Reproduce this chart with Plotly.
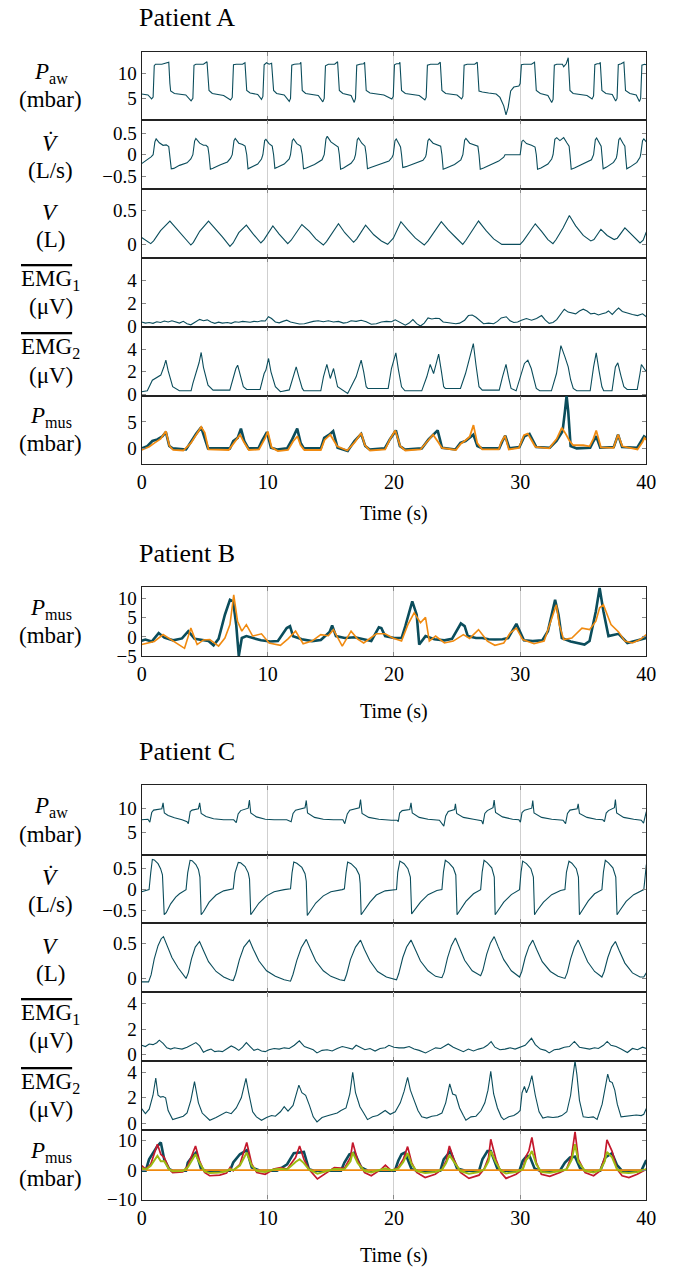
import plotly.graph_objects as go

# ---------------- DATA (time s, value) ----------------
TIME_TICKS = [0, 10, 20, 30, 40]

A_paw = [[0.00,5.9],[0.50,5.7],[0.79,4.9],[0.91,5.3],[1.00,11.6],[1.10,11.9],[1.60,11.9],[2.05,12.2],[2.15,12.3],[2.24,8.0],[2.30,6.5],[2.60,6.0],[3.50,5.7],[3.92,4.5],[4.06,5.0],[4.15,11.7],[4.30,11.9],[4.90,11.9],[5.18,12.4],[5.34,6.6],[5.60,6.0],[6.50,5.6],[7.05,4.7],[7.18,5.2],[7.28,11.8],[7.50,11.9],[8.00,11.9],[8.19,12.2],[8.33,6.6],[8.60,6.1],[9.20,5.8],[9.50,4.8],[9.61,5.4],[9.71,11.8],[9.90,12.2],[10.10,11.9],[10.30,12.1],[10.46,6.6],[10.70,6.0],[11.30,5.7],[11.70,4.4],[11.80,5.0],[11.90,11.7],[12.10,11.9],[12.55,12.0],[12.62,12.3],[12.73,6.6],[13.00,6.0],[14.00,5.6],[14.36,4.3],[14.47,5.0],[14.57,11.6],[14.80,11.9],[15.30,11.9],[15.53,12.4],[15.67,6.6],[15.95,6.0],[16.60,5.6],[16.85,4.2],[16.95,5.0],[17.05,11.7],[17.30,11.9],[17.60,12.0],[17.67,12.3],[17.80,6.6],[18.10,6.1],[19.20,5.7],[19.83,4.9],[19.94,5.4],[20.04,11.8],[20.20,12.0],[20.40,12.0],[20.47,12.3],[20.60,6.6],[20.90,6.0],[22.00,5.6],[22.45,4.7],[22.55,5.2],[22.65,11.7],[22.90,11.9],[23.50,11.9],[23.67,12.3],[23.80,6.6],[24.10,6.0],[25.00,5.7],[25.36,4.9],[25.46,5.4],[25.56,11.7],[25.80,11.9],[26.40,11.9],[26.60,12.3],[26.74,6.5],[27.00,6.3],[27.50,6.1],[28.10,5.9],[28.40,5.2],[28.70,3.5],[28.88,1.7],[29.05,3.2],[29.25,6.5],[29.50,7.3],[29.90,7.5],[30.00,8.0],[30.10,11.8],[30.30,11.9],[30.90,11.9],[31.14,12.3],[31.28,6.6],[31.60,6.0],[32.20,5.6],[32.50,4.2],[32.61,4.8],[32.71,11.7],[32.90,11.9],[33.35,11.9],[33.45,11.4],[33.65,12.0],[33.81,13.2],[33.95,6.6],[34.20,6.0],[35.30,5.6],[35.70,4.9],[35.82,5.5],[35.92,11.8],[36.10,12.0],[36.30,12.0],[36.35,12.3],[36.48,6.6],[36.80,6.0],[37.30,5.8],[37.57,4.5],[37.68,5.0],[37.78,11.8],[38.00,12.0],[38.22,12.3],[38.35,6.6],[38.70,6.0],[39.20,5.7],[39.45,4.4],[39.55,5.0],[39.65,11.7],[39.85,11.9],[40.00,11.8]]

A_flow = [[0.00,-0.21],[0.45,-0.12],[0.75,-0.05],[0.91,0.00],[1.05,0.30],[1.15,0.37],[1.40,0.28],[1.70,0.22],[1.95,0.23],[2.15,0.19],[2.24,0.00],[2.35,-0.33],[2.55,-0.32],[3.00,-0.25],[3.60,-0.19],[3.90,-0.10],[4.06,0.00],[4.20,0.32],[4.30,0.38],[4.60,0.27],[4.90,0.22],[5.10,0.22],[5.25,0.18],[5.34,0.00],[5.45,-0.34],[5.65,-0.32],[6.20,-0.24],[6.80,-0.17],[7.05,-0.08],[7.18,0.00],[7.32,0.33],[7.42,0.38],[7.70,0.27],[8.00,0.24],[8.20,0.20],[8.33,0.00],[8.43,-0.33],[8.65,-0.30],[9.20,-0.22],[9.50,-0.10],[9.61,0.00],[9.75,0.33],[9.85,0.36],[10.10,0.26],[10.35,0.20],[10.46,0.00],[10.56,-0.32],[10.80,-0.29],[11.30,-0.22],[11.70,-0.10],[11.80,0.00],[11.94,0.33],[12.04,0.37],[12.30,0.26],[12.60,0.20],[12.73,0.00],[12.83,-0.33],[13.05,-0.31],[13.70,-0.23],[14.30,-0.12],[14.47,0.00],[14.61,0.37],[14.71,0.43],[15.00,0.30],[15.40,0.23],[15.58,0.18],[15.67,0.00],[15.77,-0.34],[16.00,-0.31],[16.60,-0.20],[16.85,-0.10],[16.95,0.00],[17.09,0.35],[17.19,0.39],[17.45,0.27],[17.70,0.20],[17.80,0.00],[17.90,-0.33],[18.15,-0.30],[18.90,-0.22],[19.60,-0.15],[19.85,-0.06],[19.94,0.00],[20.08,0.33],[20.18,0.37],[20.40,0.25],[20.52,0.18],[20.60,0.00],[20.70,-0.30],[20.95,-0.28],[21.60,-0.21],[22.30,-0.13],[22.50,-0.05],[22.55,0.00],[22.69,0.33],[22.79,0.37],[23.10,0.27],[23.50,0.23],[23.70,0.20],[23.80,0.00],[23.90,-0.34],[24.15,-0.31],[24.80,-0.23],[25.30,-0.12],[25.46,0.00],[25.60,0.34],[25.70,0.38],[26.00,0.27],[26.40,0.23],[26.65,0.20],[26.74,0.00],[26.84,-0.34],[27.10,-0.31],[27.80,-0.22],[28.30,-0.15],[28.70,-0.06],[28.80,0.00],[30.00,0.00],[30.14,0.31],[30.24,0.34],[30.50,0.26],[30.90,0.22],[31.18,0.18],[31.28,0.00],[31.38,-0.34],[31.65,-0.31],[32.20,-0.22],[32.50,-0.10],[32.61,0.00],[32.75,0.36],[32.90,0.40],[33.15,0.33],[33.45,0.40],[33.70,0.28],[33.88,0.20],[33.95,0.00],[34.05,-0.34],[34.30,-0.31],[35.00,-0.22],[35.65,-0.12],[35.82,0.00],[35.96,0.35],[36.06,0.39],[36.30,0.27],[36.42,0.20],[36.48,0.00],[36.58,-0.33],[36.85,-0.29],[37.40,-0.18],[37.62,-0.08],[37.68,0.00],[37.82,0.35],[37.92,0.39],[38.15,0.27],[38.30,0.20],[38.35,0.00],[38.45,-0.33],[38.70,-0.29],[39.25,-0.18],[39.50,-0.06],[39.55,0.00],[39.70,0.33],[39.80,0.37],[40.00,0.30]]

A_vol = [[0.00,0.10],[0.72,0.01],[0.95,0.05],[1.50,0.20],[2.24,0.34],[2.70,0.24],[3.30,0.11],[3.90,-0.01],[4.10,0.03],[4.60,0.19],[5.30,0.34],[5.80,0.24],[6.40,0.11],[7.00,-0.03],[7.25,0.02],[7.70,0.17],[8.30,0.28],[8.80,0.16],[9.45,0.02],[9.70,0.07],[10.40,0.27],[10.90,0.15],[11.58,0.01],[11.85,0.06],[12.70,0.29],[13.30,0.19],[13.80,0.08],[14.40,-0.01],[14.65,0.04],[15.60,0.30],[16.10,0.17],[16.80,0.03],[17.05,0.08],[17.75,0.28],[18.40,0.14],[19.00,0.05],[19.50,0.00],[19.95,0.09],[20.55,0.33],[21.10,0.21],[21.70,0.09],[22.40,-0.01],[22.70,0.05],[23.75,0.33],[24.30,0.21],[24.90,0.10],[25.45,0.00],[25.70,0.06],[26.70,0.34],[27.30,0.20],[27.90,0.08],[28.55,0.00],[30.00,0.00],[30.25,0.05],[31.20,0.30],[31.70,0.19],[32.20,0.07],[32.60,0.01],[32.85,0.07],[33.40,0.24],[33.90,0.42],[34.40,0.27],[35.00,0.13],[35.60,0.05],[35.85,0.07],[36.40,0.22],[36.90,0.13],[37.45,0.07],[37.70,0.09],[38.30,0.24],[38.80,0.15],[39.50,0.02],[39.75,0.06],[40.00,0.18]]

A_emg1 = [[0.0,0.40],[0.3,0.30],[0.6,0.35],[0.9,0.28],[1.2,0.42],[1.5,0.35],[1.8,0.48],[2.1,0.40],[2.4,0.50],[2.7,0.38],[3.0,0.30],[3.3,0.45],[3.6,0.25],[3.9,0.15],[4.2,0.35],[4.6,0.62],[4.9,0.50],[5.2,0.58],[5.5,0.40],[5.8,0.28],[6.1,0.38],[6.4,0.30],[6.8,0.35],[7.1,0.28],[7.4,0.42],[7.7,0.38],[8.0,0.45],[8.3,0.40],[8.6,0.38],[8.9,0.45],[9.2,0.42],[9.5,0.50],[9.8,0.48],[10.05,0.85],[10.3,0.70],[10.6,0.40],[10.9,0.32],[11.2,0.45],[11.5,0.55],[11.8,0.40],[12.1,0.32],[12.5,0.22],[12.9,0.25],[13.3,0.38],[13.6,0.45],[14.0,0.50],[14.4,0.42],[14.8,0.50],[15.2,0.40],[15.6,0.45],[16.0,0.30],[16.3,0.35],[16.6,0.50],[17.0,0.45],[17.4,0.55],[17.8,0.42],[18.2,0.20],[18.6,0.25],[19.0,0.40],[19.4,0.45],[19.8,0.42],[20.1,0.58],[20.4,0.40],[20.7,0.25],[20.9,0.12],[21.2,0.30],[21.5,0.60],[21.8,0.25],[22.1,0.05],[22.4,0.30],[22.7,0.75],[23.0,0.65],[23.3,0.72],[23.6,0.70],[23.9,0.40],[24.2,0.35],[24.5,0.30],[24.9,0.25],[25.2,0.30],[25.6,0.55],[25.9,0.95],[26.2,1.00],[26.5,0.80],[26.8,0.50],[27.1,0.25],[27.5,0.30],[27.9,0.25],[28.2,0.45],[28.5,0.75],[28.9,0.85],[29.2,0.50],[29.5,0.35],[29.8,0.40],[30.1,0.55],[30.5,0.70],[30.9,0.55],[31.3,0.70],[31.7,0.95],[32.0,0.55],[32.3,0.28],[32.6,0.35],[32.9,0.60],[33.2,1.00],[33.5,1.50],[33.8,1.25],[34.1,1.20],[34.4,1.10],[34.7,1.35],[35.0,1.50],[35.3,1.35],[35.6,1.10],[35.9,1.15],[36.2,1.00],[36.5,1.10],[36.8,1.20],[37.0,1.35],[37.3,1.05],[37.6,1.40],[37.8,1.60],[38.1,1.30],[38.5,1.15],[38.9,1.05],[39.3,0.95],[39.7,1.10],[40.0,0.85]]

A_emg2 = [[0.00,0.24],[0.45,0.32],[0.85,1.26],[1.25,1.56],[1.52,1.71],[1.75,2.40],[1.92,3.03],[2.10,2.10],[2.46,0.68],[2.99,0.32],[3.92,0.32],[4.06,0.97],[4.32,1.85],[4.55,2.80],[4.72,3.71],[4.90,2.40],[5.26,0.82],[5.66,0.38],[6.99,0.38],[7.26,1.56],[7.47,2.29],[7.61,2.59],[7.80,1.70],[8.06,0.68],[8.33,0.44],[9.39,0.44],[9.71,1.85],[9.85,2.15],[10.06,3.18],[10.25,2.00],[10.60,0.68],[11.00,0.24],[11.70,0.40],[11.93,1.26],[12.25,2.44],[12.45,1.60],[12.73,0.53],[12.86,0.32],[14.20,0.32],[14.41,1.56],[14.68,2.65],[14.95,1.41],[15.21,2.29],[15.53,0.68],[16.33,0.09],[17.00,1.56],[17.40,3.03],[17.60,2.00],[17.80,0.68],[17.93,0.53],[19.54,0.53],[19.80,2.29],[20.15,3.68],[20.35,2.20],[20.60,0.68],[20.87,0.32],[22.20,0.32],[22.60,1.56],[22.87,2.65],[23.14,1.85],[23.54,3.56],[23.75,2.10],[23.94,0.68],[24.07,0.53],[25.27,0.53],[25.67,1.85],[26.07,3.62],[26.29,4.50],[26.50,2.60],[26.74,0.68],[27.00,0.38],[28.34,0.38],[28.60,1.56],[28.88,2.65],[29.08,1.50],[29.28,0.53],[29.68,0.32],[30.34,2.74],[30.61,3.03],[30.88,2.29],[31.10,1.30],[31.28,0.53],[31.55,0.32],[32.48,0.32],[32.88,1.85],[33.23,4.32],[33.55,3.32],[33.81,2.44],[34.00,1.30],[34.21,0.53],[34.48,0.32],[35.55,0.32],[35.82,2.44],[36.03,3.68],[36.25,2.10],[36.48,0.68],[36.62,0.32],[37.28,0.32],[37.55,2.44],[37.74,2.79],[38.00,1.60],[38.22,0.68],[38.48,0.44],[39.28,0.44],[39.50,1.85],[39.61,2.65],[40.00,2.00]]

A_pmus_meas = [[0.00,0.0],[0.45,0.44],[0.85,1.4],[1.25,1.7],[1.65,2.3],[1.92,3.1],[2.19,0.44],[2.46,0.0],[3.52,-0.2],[3.92,1.4],[4.32,2.75],[4.72,4.0],[4.99,2.0],[5.26,0.0],[7.00,0.0],[7.26,1.4],[7.61,2.0],[7.87,3.75],[8.14,1.4],[8.46,0.0],[9.26,0.0],[9.53,1.4],[9.93,3.1],[10.25,0.12],[10.73,-0.2],[11.53,0.0],[11.93,1.7],[12.33,3.75],[12.60,1.06],[12.86,0.0],[14.20,0.0],[14.47,2.0],[14.87,2.6],[15.18,3.25],[15.53,0.12],[16.33,-0.5],[16.87,1.4],[17.40,2.75],[17.72,0.44],[18.07,-0.2],[19.27,0.0],[19.67,1.7],[20.15,3.4],[20.47,0.44],[20.87,-0.2],[22.20,0.0],[22.74,1.7],[23.46,3.4],[23.81,0.12],[24.87,-0.2],[25.27,1.06],[25.67,1.4],[26.29,2.6],[26.61,0.44],[27.01,0.0],[28.34,0.0],[28.60,1.4],[28.82,2.4],[29.15,0.0],[29.94,0.25],[30.34,2.3],[30.74,2.75],[31.28,0.25],[32.35,0.12],[32.88,1.4],[33.36,3.25],[33.55,7.0],[33.68,10.0],[33.81,7.0],[34.00,0.44],[34.48,0.0],[35.55,0.12],[35.82,1.4],[36.03,2.3],[36.35,0.12],[37.42,0.25],[37.76,2.6],[38.08,0.25],[39.28,0.12],[39.68,1.7],[39.82,2.3],[40.00,2.0]]

A_pmus_est = [[0.0,-0.3],[0.6,0.3],[1.0,1.0],[1.5,1.8],[1.92,3.25],[2.2,0.5],[2.5,-0.3],[3.3,-0.4],[3.9,1.0],[4.4,2.8],[4.72,4.05],[5.0,3.0],[5.3,-0.2],[6.9,-0.3],[7.3,1.0],[7.8,2.6],[8.1,1.2],[8.5,-0.3],[9.3,-0.2],[9.8,2.0],[10.0,3.2],[10.3,0.2],[10.8,-0.5],[11.6,-0.3],[12.0,1.3],[12.35,2.3],[12.6,0.6],[12.9,-0.3],[14.2,-0.3],[14.5,1.6],[14.95,2.6],[15.2,1.5],[15.5,0.4],[16.3,-0.4],[16.9,1.2],[17.4,2.9],[17.7,0.6],[18.1,-0.4],[19.3,-0.2],[19.7,1.8],[20.1,3.4],[20.5,0.4],[20.9,-0.4],[22.1,-0.2],[22.7,1.4],[23.1,2.6],[23.5,1.2],[23.8,0.1],[24.9,-0.3],[25.3,0.9],[25.7,1.6],[26.0,2.2],[26.3,4.4],[26.6,1.0],[27.0,-0.2],[28.3,-0.2],[28.5,1.2],[28.8,2.4],[29.1,-0.2],[29.9,0.1],[30.3,2.5],[30.6,2.8],[31.2,0.3],[32.3,0.0],[32.9,1.8],[33.3,3.9],[33.6,2.8],[33.9,1.5],[34.2,0.6],[35.0,0.6],[35.5,0.4],[35.8,1.8],[36.03,3.4],[36.4,0.2],[37.4,0.1],[37.76,2.6],[38.1,0.4],[39.3,-0.2],[39.7,1.2],[39.85,2.0],[40.0,1.6]]

B_pmus_meas = [[0.0,-1.0],[0.3,-0.7],[0.8,-1.2],[1.35,1.0],[1.8,-0.2],[2.5,-0.9],[3.2,-0.4],[3.7,1.5],[4.2,-0.5],[4.8,-0.8],[5.3,-1.1],[5.7,-2.2],[6.1,-0.5],[6.6,5.8],[7.0,9.7],[7.25,9.3],[7.5,3.0],[7.7,-5.0],[7.94,-0.3],[8.3,0.2],[8.9,-0.4],[9.46,-0.9],[10.2,-1.2],[10.8,-1.1],[11.5,2.3],[11.76,2.8],[12.0,0.2],[12.7,-0.6],[13.5,-1.1],[14.2,-0.8],[14.9,1.3],[15.1,3.0],[15.4,0.2],[16.1,-0.3],[16.9,-0.1],[17.6,-0.6],[18.2,-1.1],[18.8,2.5],[19.0,2.3],[19.3,0.2],[20.0,-0.3],[20.6,-0.3],[20.9,2.8],[21.45,9.3],[21.8,5.8],[22.0,-2.0],[22.5,0.2],[23.2,-0.6],[24.0,-0.9],[24.6,-0.5],[25.1,2.3],[25.3,3.5],[25.6,2.8],[25.85,0.2],[26.5,-0.3],[27.0,-0.3],[27.5,-0.6],[28.0,-0.7],[28.6,-0.6],[29.05,-0.3],[29.7,3.4],[30.07,1.0],[30.3,-0.9],[31.0,-1.1],[31.75,-0.9],[32.2,1.5],[32.5,5.8],[32.77,9.7],[33.04,5.8],[33.3,-0.3],[34.0,-1.2],[34.5,-1.6],[35.1,-2.0],[35.5,-1.1],[36.0,6.7],[36.3,12.8],[36.6,6.7],[37.0,0.2],[37.4,0.6],[37.8,0.8],[38.5,-1.6],[39.0,-1.2],[39.5,-0.7],[40.0,-0.3]]

B_pmus_est = [[0.0,-2.0],[0.5,-1.5],[1.0,-1.2],[1.7,0.6],[2.2,-0.5],[2.7,-1.6],[3.4,-3.0],[3.9,2.3],[4.4,-2.0],[4.9,-0.8],[5.4,-0.7],[6.1,-2.4],[6.6,-0.3],[7.0,3.2],[7.3,11.0],[7.6,4.1],[7.94,1.5],[8.3,3.2],[8.8,0.2],[9.5,0.8],[10.1,-1.6],[11.0,-2.2],[11.6,-0.5],[12.2,1.5],[12.8,-1.8],[13.5,-1.1],[14.2,0.6],[14.8,0.3],[15.2,1.9],[15.9,-2.4],[16.6,1.5],[17.1,-0.5],[17.6,-1.6],[18.6,0.8],[19.3,0.8],[19.9,-0.3],[20.6,-1.1],[21.1,3.2],[21.6,6.3],[22.1,3.7],[22.5,5.1],[22.8,-1.1],[23.3,0.2],[24.0,-1.6],[24.7,-1.1],[25.5,0.6],[26.0,-0.4],[26.7,1.9],[27.4,-1.1],[28.0,-2.2],[28.7,-1.6],[29.2,1.0],[29.7,2.3],[30.2,-0.7],[31.1,-1.8],[31.9,-1.1],[32.6,5.8],[32.87,8.4],[33.1,3.2],[33.45,-0.7],[34.1,-0.3],[34.9,2.3],[35.5,1.9],[36.0,4.1],[36.3,7.6],[36.6,8.4],[37.2,3.2],[37.8,1.3],[38.3,-1.1],[38.9,-1.6],[39.5,-0.7],[40.0,0.6]]

C_paw = [[0.00,7.7],[0.50,7.8],[0.65,7.2],[0.80,9.2],[0.95,9.7],[1.60,10.0],[1.70,11.2],[1.80,9.1],[2.10,8.6],[2.60,8.1],[3.20,7.7],[3.60,7.3],[3.70,6.9],[3.85,9.4],[4.00,9.7],[4.50,10.0],[4.60,11.2],[4.72,9.0],[5.10,8.4],[5.70,7.9],[6.50,7.7],[7.30,7.7],[7.50,7.1],[7.65,8.9],[7.85,9.6],[8.45,10.1],[8.54,11.8],[8.65,9.1],[9.10,8.3],[9.80,7.8],[10.50,7.7],[11.50,7.7],[11.85,7.3],[12.00,9.0],[12.20,9.7],[12.95,10.2],[13.05,11.7],[13.15,9.1],[13.70,8.2],[14.40,7.8],[15.20,7.7],[15.95,7.7],[16.10,6.9],[16.30,8.9],[16.50,9.7],[17.25,10.2],[17.35,11.9],[17.47,9.0],[18.00,8.2],[18.80,7.8],[19.80,7.6],[20.25,7.6],[20.34,7.3],[20.45,9.1],[20.65,9.6],[21.25,9.8],[21.35,11.2],[21.45,9.1],[22.00,8.2],[22.70,7.8],[23.60,7.6],[23.95,6.4],[24.10,8.5],[24.30,9.4],[24.80,9.8],[24.87,11.0],[24.97,9.0],[25.50,8.2],[26.30,7.8],[26.95,7.5],[27.05,6.8],[27.20,9.0],[27.40,9.6],[27.85,10.2],[27.94,11.8],[28.05,9.2],[28.60,8.3],[29.40,7.8],[29.90,7.7],[30.02,7.2],[30.15,9.2],[30.35,9.7],[30.92,10.1],[31.00,11.7],[31.10,9.1],[31.70,8.2],[32.50,7.8],[33.40,7.6],[33.60,6.9],[33.75,9.0],[33.95,9.7],[34.52,10.0],[34.60,11.0],[34.70,9.0],[35.30,8.2],[36.00,7.8],[36.55,7.7],[36.68,7.3],[36.82,9.1],[37.00,9.6],[37.47,10.2],[37.55,11.9],[37.65,9.1],[38.20,8.2],[39.00,7.8],[39.60,7.6],[39.78,7.0],[39.90,8.8],[40.00,9.4]]

C_flow = [[0.00,-0.05],[0.45,-0.02],[0.59,0.00],[0.72,0.40],[0.85,0.72],[1.00,0.71],[1.30,0.62],[1.50,0.50],[1.65,0.35],[1.79,-0.60],[1.95,-0.55],[2.30,-0.34],[2.70,-0.18],[3.00,-0.10],[3.40,-0.02],[3.52,0.00],[3.65,0.40],[3.84,0.70],[4.00,0.69],[4.30,0.60],[4.50,0.48],[4.62,0.30],[4.72,-0.60],[4.90,-0.53],[5.35,-0.30],[5.90,-0.13],[6.50,-0.03],[7.10,0.00],[7.26,0.02],[7.40,0.40],[7.66,0.65],[7.85,0.64],[8.20,0.55],[8.45,0.40],[8.55,0.25],[8.65,-0.60],[8.85,-0.52],[9.30,-0.32],[9.90,-0.15],[10.50,-0.05],[11.30,0.00],[11.80,0.02],[11.92,0.40],[12.06,0.66],[12.30,0.63],[12.70,0.53],[12.95,0.38],[13.05,0.20],[13.13,-0.62],[13.35,-0.52],[13.80,-0.32],[14.40,-0.15],[15.00,-0.05],[15.90,0.00],[16.07,0.02],[16.20,0.40],[16.33,0.66],[16.60,0.62],[17.00,0.50],[17.25,0.35],[17.32,0.15],[17.40,-0.60],[17.60,-0.52],[18.10,-0.30],[18.60,-0.13],[19.30,-0.03],[20.20,0.00],[20.30,0.42],[20.47,0.68],[20.80,0.62],[21.10,0.50],[21.30,0.30],[21.40,-0.58],[21.60,-0.50],[22.10,-0.30],[22.70,-0.12],[23.40,-0.02],[23.80,0.00],[23.92,0.42],[24.07,0.70],[24.35,0.64],[24.70,0.52],[24.90,0.35],[25.00,-0.60],[25.20,-0.50],[25.70,-0.28],[26.30,-0.10],[26.87,0.00],[26.99,0.42],[27.14,0.70],[27.40,0.64],[27.75,0.52],[27.95,0.30],[28.02,-0.60],[28.25,-0.50],[28.70,-0.30],[29.30,-0.12],[29.80,-0.02],[29.95,0.00],[30.07,0.42],[30.20,0.68],[30.50,0.62],[30.85,0.50],[31.05,0.30],[31.14,-0.60],[31.35,-0.50],[31.85,-0.30],[32.50,-0.12],[33.20,-0.02],[33.55,0.00],[33.67,0.42],[33.87,0.68],[34.10,0.63],[34.45,0.50],[34.62,0.30],[34.70,-0.60],[34.90,-0.50],[35.40,-0.27],[35.90,-0.10],[36.48,0.00],[36.60,0.42],[36.75,0.70],[37.00,0.64],[37.35,0.52],[37.58,0.30],[37.68,-0.60],[37.90,-0.50],[38.40,-0.28],[39.00,-0.12],[39.60,-0.02],[39.80,0.00],[39.92,0.35],[40.00,0.60]]

C_vol = [[0.00,-0.05],[0.55,-0.05],[0.75,0.05],[1.00,0.28],[1.30,0.47],[1.55,0.57],[1.73,0.60],[2.00,0.48],[2.40,0.30],[2.90,0.15],[3.30,0.05],[3.52,0.00],[3.70,0.08],[3.95,0.28],[4.25,0.45],[4.59,0.53],[4.90,0.40],[5.30,0.24],[5.90,0.10],[6.50,0.02],[7.00,-0.02],[7.26,-0.03],[7.45,0.06],[7.75,0.27],[8.10,0.45],[8.54,0.55],[8.85,0.42],[9.30,0.25],[9.90,0.11],[10.60,0.03],[11.30,-0.02],[11.80,-0.04],[12.00,0.06],[12.30,0.26],[12.65,0.44],[13.05,0.56],[13.35,0.43],[13.80,0.25],[14.40,0.11],[15.00,0.03],[15.70,-0.02],[16.07,-0.03],[16.25,0.06],[16.55,0.27],[16.95,0.45],[17.35,0.55],[17.65,0.42],[18.10,0.25],[18.70,0.10],[19.40,0.02],[20.20,-0.02],[20.38,0.07],[20.70,0.30],[21.00,0.45],[21.35,0.55],[21.65,0.42],[22.10,0.25],[22.70,0.11],[23.30,0.03],[23.80,0.01],[23.98,0.09],[24.25,0.30],[24.55,0.47],[24.87,0.58],[25.15,0.45],[25.60,0.26],[26.20,0.11],[26.87,0.04],[27.05,0.12],[27.35,0.35],[27.65,0.51],[27.94,0.60],[28.25,0.46],[28.70,0.27],[29.30,0.11],[29.95,0.02],[30.13,0.10],[30.40,0.30],[30.70,0.46],[31.00,0.55],[31.30,0.42],[31.75,0.24],[32.40,0.10],[33.00,0.03],[33.55,0.00],[33.73,0.08],[34.00,0.28],[34.30,0.45],[34.60,0.55],[34.90,0.42],[35.35,0.24],[35.90,0.10],[36.48,0.02],[36.66,0.10],[36.95,0.30],[37.25,0.45],[37.55,0.53],[37.85,0.40],[38.30,0.22],[38.90,0.08],[39.50,0.02],[39.80,0.02],[40.00,0.08]]

C_emg1 = [[0.0,0.75],[0.3,0.65],[0.6,0.85],[0.9,0.80],[1.2,0.95],[1.4,1.15],[1.7,0.90],[2.0,0.55],[2.3,0.45],[2.6,0.55],[2.9,0.50],[3.2,0.45],[3.6,0.60],[3.9,0.75],[4.3,0.96],[4.6,0.70],[4.9,0.20],[5.2,0.35],[5.5,0.45],[5.8,0.25],[6.1,0.30],[6.4,0.25],[6.8,0.50],[7.1,0.70],[7.4,0.55],[7.7,0.35],[8.0,0.60],[8.3,0.96],[8.6,0.65],[8.9,0.35],[9.2,0.45],[9.5,0.30],[9.8,0.25],[10.1,0.40],[10.5,0.50],[10.9,0.45],[11.3,0.55],[11.7,0.50],[12.1,0.75],[12.5,1.10],[12.9,0.65],[13.3,0.50],[13.6,0.40],[13.9,0.15],[14.3,0.35],[14.7,0.40],[15.1,0.30],[15.5,0.50],[15.9,0.65],[16.3,0.55],[16.7,0.45],[17.0,0.75],[17.3,0.60],[17.7,0.40],[18.1,0.50],[18.5,0.30],[18.9,0.50],[19.3,0.55],[19.6,0.75],[20.0,0.60],[20.4,0.55],[20.8,0.55],[21.2,0.65],[21.6,0.45],[22.0,0.35],[22.5,0.15],[22.9,0.35],[23.3,0.55],[23.7,0.50],[24.0,0.70],[24.3,0.85],[24.7,0.60],[25.1,0.40],[25.5,0.25],[25.9,0.45],[26.3,0.30],[26.7,0.45],[27.1,0.55],[27.4,0.75],[27.7,1.04],[28.0,0.60],[28.4,0.40],[28.8,0.45],[29.2,0.55],[29.6,0.45],[30.0,0.60],[30.4,0.75],[30.9,1.30],[31.2,0.80],[31.6,0.45],[32.0,0.35],[32.3,0.15],[32.7,0.40],[33.1,0.45],[33.5,0.60],[33.9,0.65],[34.3,1.05],[34.7,0.60],[35.1,0.55],[35.5,0.45],[35.9,0.55],[36.2,0.50],[36.6,0.75],[36.9,1.05],[37.2,0.75],[37.6,0.65],[38.0,0.45],[38.5,0.18],[38.9,0.50],[39.3,0.40],[39.7,0.60],[40.0,0.50]]

C_emg2 = [[0.0,1.15],[0.3,0.75],[0.6,1.1],[0.9,2.2],[1.12,3.56],[1.3,2.2],[1.5,2.05],[1.7,2.1],[1.9,2.0],[2.1,1.0],[2.46,0.29],[2.9,0.45],[3.3,0.55],[3.6,0.8],[3.9,1.8],[4.19,3.27],[4.5,1.6],[4.8,0.8],[5.4,0.23],[5.9,0.45],[6.3,0.7],[6.7,0.88],[7.1,0.75],[7.5,1.2],[7.9,2.0],[8.27,3.53],[8.5,2.3],[8.8,0.9],[9.1,0.5],[9.5,0.23],[9.9,0.45],[10.3,0.6],[10.6,0.55],[11.0,0.9],[11.3,1.3],[11.6,0.95],[12.0,1.4],[12.46,3.0],[12.7,2.4],[13.0,2.2],[13.3,1.4],[13.6,0.5],[13.9,0.1],[14.3,0.45],[14.8,0.6],[15.2,0.7],[15.5,0.8],[15.8,1.0],[16.2,1.2],[16.5,2.3],[16.73,4.0],[16.95,2.4],[17.3,1.3],[17.6,0.8],[17.9,0.28],[18.3,0.5],[18.7,0.6],[19.0,0.8],[19.3,1.0],[19.7,0.7],[20.1,0.9],[20.5,1.6],[20.8,2.5],[21.08,3.6],[21.3,2.6],[21.6,1.8],[21.9,1.0],[22.2,0.5],[22.6,0.4],[23.0,0.55],[23.4,0.6],[23.8,0.8],[24.1,1.6],[24.42,3.1],[24.65,2.3],[24.9,2.2],[25.2,1.2],[25.5,0.6],[25.7,0.23],[26.1,0.5],[26.5,0.55],[26.9,1.0],[27.2,1.6],[27.45,2.6],[27.67,4.08],[27.9,2.3],[28.2,1.2],[28.5,0.5],[28.7,0.28],[29.1,0.5],[29.5,0.6],[29.8,0.8],[30.0,1.0],[30.15,2.4],[30.34,2.9],[30.5,2.4],[30.7,2.9],[30.93,3.74],[31.2,2.2],[31.5,0.9],[31.8,0.4],[32.2,0.5],[32.6,0.45],[33.0,0.5],[33.3,0.6],[33.7,0.9],[34.0,2.2],[34.2,3.8],[34.35,4.9],[34.5,3.8],[34.7,1.8],[35.0,0.5],[35.4,0.45],[35.8,0.5],[36.1,0.3],[36.5,1.5],[36.8,3.0],[36.94,3.87],[37.1,3.3],[37.3,3.2],[37.5,2.6],[37.7,1.5],[38.0,0.5],[38.4,0.55],[38.8,0.6],[39.2,0.65],[39.6,0.6],[39.8,0.7],[40.0,1.15]]

C_pmus_meas = [[0.00,-0.2],[0.32,-0.2],[0.59,3.7],[1.25,8.2],[1.52,9.4],[1.79,3.7],[2.19,0.3],[2.46,-0.2],[3.52,-0.2],[3.66,2.6],[4.06,4.9],[4.32,6.0],[4.72,0.3],[5.12,-0.2],[7.00,-0.2],[7.26,2.6],[7.79,5.4],[8.33,6.8],[8.73,0.9],[9.39,-0.2],[10.73,-0.2],[11.53,2.0],[12.06,5.8],[12.86,6.2],[13.26,0.3],[13.66,-0.2],[15.80,-0.2],[16.07,2.6],[16.47,5.4],[16.87,6.0],[17.40,0.9],[17.93,-0.2],[20.07,-0.2],[20.34,3.2],[20.60,5.4],[20.87,6.0],[21.40,0.3],[21.94,-0.2],[23.67,-0.2],[23.94,3.7],[24.47,6.4],[25.00,0.6],[25.67,-0.2],[26.74,-0.2],[27.01,3.7],[27.41,6.5],[27.67,6.5],[28.21,0.3],[28.61,-0.2],[29.94,-0.2],[30.21,3.2],[30.48,4.6],[30.74,4.9],[31.14,0.6],[31.55,-0.2],[33.15,-0.2],[33.55,2.6],[33.95,4.3],[34.35,4.6],[34.75,0.6],[35.15,-0.2],[36.35,-0.2],[36.75,4.3],[37.28,5.8],[37.68,1.7],[38.08,-0.2],[39.60,-0.2],[40.00,3.4]]

C_pmus_est1 = [[0.0,1.5],[0.32,0.34],[0.72,2.0],[1.25,8.8],[1.52,5.4],[1.79,4.3],[2.19,0.34],[2.46,-0.8],[3.26,-0.6],[3.66,1.5],[4.27,8.2],[4.59,3.2],[4.99,-0.8],[5.39,-1.9],[6.19,-1.7],[6.73,-1.0],[7.0,0.9],[7.26,-0.2],[7.79,2.0],[8.33,9.4],[8.73,2.0],[9.13,-0.8],[9.79,-1.4],[10.46,0.34],[11.0,0.9],[11.53,0.34],[12.2,4.3],[12.52,8.2],[12.86,3.7],[13.26,0.34],[13.93,-3.0],[14.46,-1.4],[15.27,0.9],[16.07,0.6],[16.55,4.3],[16.73,9.4],[17.13,3.2],[17.67,-0.8],[18.2,-1.9],[19.0,0.34],[19.32,1.7],[19.8,-0.2],[20.34,0.9],[20.74,3.7],[21.08,8.0],[21.4,2.6],[21.8,-0.8],[22.47,-2.5],[23.27,-1.4],[23.81,0.34],[24.13,3.2],[24.39,8.2],[24.74,3.7],[25.27,-0.8],[25.94,-2.8],[26.74,-1.7],[27.14,0.34],[27.49,4.3],[27.67,10.5],[28.08,3.7],[28.48,-0.8],[28.88,-2.8],[29.68,-1.4],[30.21,0.34],[30.48,4.9],[30.69,6.5],[30.93,11.1],[31.28,2.6],[31.68,-1.4],[32.35,-2.1],[33.15,-0.8],[33.68,0.34],[34.08,4.9],[34.35,13.0],[34.62,3.7],[35.15,-0.8],[35.82,-1.9],[36.35,-0.2],[36.7,4.3],[36.88,10.3],[37.28,6.5],[37.68,0.34],[38.08,-1.9],[38.62,-2.5],[39.28,-1.4],[40.0,0.34]]

C_pmus_est2 = [[0.0,0.8],[0.32,0.2],[0.72,1.5],[1.25,4.9],[1.52,3.0],[1.79,3.0],[2.19,0.2],[2.46,-0.4],[3.26,-0.3],[3.66,1.0],[4.27,5.4],[4.59,2.5],[4.99,-0.4],[5.39,-1.0],[6.19,-0.8],[6.73,-0.4],[7.0,0.4],[7.26,0.0],[7.79,1.6],[8.33,6.0],[8.73,1.5],[9.13,-0.3],[9.79,-0.6],[10.46,0.2],[11.0,0.5],[11.53,0.2],[12.2,2.8],[12.52,3.7],[12.86,2.4],[13.26,0.2],[13.93,-1.2],[14.46,-0.6],[15.27,0.4],[16.07,0.3],[16.55,3.0],[16.73,6.0],[17.13,2.4],[17.67,-0.3],[18.2,-0.8],[19.0,0.2],[19.32,0.6],[19.8,0.0],[20.34,0.5],[20.74,2.8],[21.08,5.8],[21.4,2.0],[21.8,-0.3],[22.47,-1.0],[23.27,-0.6],[23.81,0.2],[24.13,2.4],[24.39,5.1],[24.74,2.8],[25.27,-0.3],[25.94,-1.2],[26.74,-0.6],[27.14,0.2],[27.49,3.0],[27.67,6.5],[28.08,2.6],[28.48,-0.3],[28.88,-1.1],[29.68,-0.6],[30.21,0.3],[30.48,3.5],[30.69,4.5],[30.93,6.5],[31.28,2.0],[31.68,-0.6],[32.35,-0.9],[33.15,-0.3],[33.68,0.3],[34.08,3.5],[34.35,8.8],[34.62,2.8],[35.15,-0.3],[35.82,-0.8],[36.35,0.0],[36.7,3.0],[36.88,6.2],[37.28,4.4],[37.68,0.3],[38.08,-0.8],[38.62,-1.0],[39.28,-0.6],[40.0,0.3]]

C_pmus_zero = [[0.0,0.0],[40.0,0.0]]

# ---------------- STYLE / LAYOUT ----------------
W, H = 684, 1276
FONT = "Liberation Serif"
TEAL = "#0b4d5c"
ORANGE = "#f08a10"
RED = "#c4182c"
GREEN = "#9dbb12"
XL, XR = 139.7, 655.7
LABEL_X = 47

def split(pairs):
    return [p[0] for p in pairs], [p[1] for p in pairs]

EMG1 = '<span style="text-decoration:overline">EMG</span><sub>1</sub>'
EMG2 = '<span style="text-decoration:overline">EMG</span><sub>2</sub>'
PAW = "<i>P</i><sub>aw</sub>"
PMUS = "<i>P</i><sub>mus</sub>"
VDOT = "<i>V\u0307</i>"
VOL = "<i>V</i>"

# label offsets (line1, line2) relative to panel centre, px
OFF_STD = (-13, 14)
OFF_V = (-11, 16)

panels = [
    dict(top=52.3, bot=121.3, rng=[0.6, 14.4], ticks=[5, 10], lab=(PAW, "(mbar)"), off=OFF_STD, series=[(A_paw, TEAL, 1.1)], xlab=False),
    dict(top=121.3, bot=190.5, rng=[-0.8, 0.807], ticks=[-0.5, 0, 0.5], lab=(VDOT, "(L/s)"), off=OFF_V, series=[(A_flow, TEAL, 1.1)], xlab=False),
    dict(top=190.5, bot=260.3, rng=[-0.2, 0.81], ticks=[0, 0.5], lab=(VOL, "(L)"), off=OFF_V, series=[(A_vol, TEAL, 1.1)], xlab=False),
    dict(top=260.3, bot=330.0, rng=[-0.05, 5.92], ticks=[0, 2, 4], lab=(EMG1, "(μV)"), off=OFF_STD, series=[(A_emg1, TEAL, 1.1)], xlab=False),
    dict(top=330.0, bot=399.0, rng=[-0.1, 5.95], ticks=[0, 2, 4], lab=(EMG2, "(μV)"), off=OFF_STD, series=[(A_emg2, TEAL, 1.1)], xlab=False),
    dict(top=399.0, bot=468.3, rng=[-3.0, 10.0], ticks=[0, 5], lab=(PMUS, "(mbar)"), off=OFF_STD, series=[(A_pmus_meas, TEAL, 2.6), (A_pmus_est, ORANGE, 1.8)], xlab=True),
    dict(top=592.3, bot=661.7, rng=[-5.0, 13.0], ticks=[-5, 0, 5, 10], lab=(PMUS, "(mbar)"), off=OFF_STD, series=[(B_pmus_meas, TEAL, 2.6), (B_pmus_est, ORANGE, 1.6)], xlab=True),
    dict(top=792.3, bot=862.3, rng=[0.44, 14.8], ticks=[5, 10], lab=(PAW, "(mbar)"), off=OFF_STD, series=[(C_paw, TEAL, 1.1)], xlab=False),
    dict(top=862.3, bot=930.7, rng=[-0.79, 0.83], ticks=[-0.5, 0, 0.5], lab=(VDOT, "(L/s)"), off=OFF_V, series=[(C_flow, TEAL, 1.1)], xlab=False),
    dict(top=930.7, bot=1001.0, rng=[-0.2, 0.80], ticks=[0, 0.5], lab=(VOL, "(L)"), off=OFF_V, series=[(C_vol, TEAL, 1.1)], xlab=False),
    dict(top=1001.0, bot=1070.7, rng=[-0.52, 4.9], ticks=[0, 2, 4], lab=(EMG1, "(μV)"), off=OFF_STD, series=[(C_emg1, TEAL, 1.1)], xlab=False),
    dict(top=1070.7, bot=1140.0, rng=[-0.55, 4.86], ticks=[0, 2, 4], lab=(EMG2, "(μV)"), off=OFF_STD, series=[(C_emg2, TEAL, 1.1)], xlab=False),
    dict(top=1140.0, bot=1210.0, rng=[-10.0, 13.6], ticks=[-10, 0, 10], lab=(PMUS, "(mbar)"), off=OFF_STD,
         series=[(C_pmus_meas, TEAL, 2.6), (C_pmus_est1, RED, 1.7), (C_pmus_zero, ORANGE, 1.6), (C_pmus_est2, GREEN, 2.0)], xlab=True),
]

fig = go.Figure()
layout = dict(
    width=W, height=H, margin=dict(l=0, r=0, t=0, b=0), autosize=False,
    paper_bgcolor="white", plot_bgcolor="white", showlegend=False,
    font=dict(family=FONT, size=19, color="black"),
)
annotations = []

def py(p):
    return 1 - p / H

for i, p in enumerate(panels, start=1):
    sx = "" if i == 1 else str(i)
    for pts, col, lw in p["series"]:
        t, v = split(pts)
        fig.add_trace(go.Scatter(x=t, y=v, mode="lines", line=dict(color=col, width=lw),
                                 xaxis="x" + sx, yaxis="y" + sx, hoverinfo="skip", cliponaxis=True))
    layout["xaxis" + sx] = dict(
        domain=[XL / W, XR / W], range=[0, 40], anchor="y" + sx,
        tickvals=TIME_TICKS, showticklabels=p["xlab"], ticks="inside", ticklen=4, tickcolor="#888",
        showgrid=True, gridcolor="#cfcfcf", gridwidth=1.4, zeroline=False,
        showline=True, mirror="ticks", linecolor="#222", linewidth=1.3,
        tickfont=dict(family=FONT, size=20, color="black"),
    )
    layout["yaxis" + sx] = dict(
        domain=[py(p["bot"]), py(p["top"])], range=p["rng"], anchor="x" + sx,
        tickvals=p["ticks"], ticks="inside", ticklen=4, tickcolor="#888",
        showgrid=False, zeroline=False,
        showline=True, mirror="ticks", linecolor="#222", linewidth=1.3,
        tickfont=dict(family=FONT, size=19, color="black"),
    )
    yc = (p["top"] + p["bot"]) / 2
    l1, l2 = p["lab"]
    o1, o2 = p["off"]
    annotations.append(dict(text=l1, x=LABEL_X / W, y=py(yc + o1), xref="paper", yref="paper",
                            xanchor="center", yanchor="middle", showarrow=False,
                            font=dict(family=FONT, size=23, color="black")))
    annotations.append(dict(text=l2, x=LABEL_X / W, y=py(yc + o2), xref="paper", yref="paper",
                            xanchor="center", yanchor="middle", showarrow=False,
                            font=dict(family=FONT, size=23, color="black")))

for title, ypx in [("Patient A", 18), ("Patient B", 558), ("Patient C", 758)]:
    annotations.append(dict(text=title, x=135 / W, y=py(ypx), xref="paper", yref="paper",
                            xanchor="left", yanchor="middle", showarrow=False,
                            font=dict(family=FONT, size=26, color="black")))
for ypx in [518, 718, 1266]:
    annotations.append(dict(text="Time (s)", x=(XL + XR) / 2 / W, y=py(ypx), xref="paper", yref="paper",
                            xanchor="center", yanchor="middle", showarrow=False,
                            font=dict(family=FONT, size=20, color="black")))

layout["annotations"] = annotations
fig.update_layout(**layout)
POST = ("document.documentElement.style.margin='0';document.documentElement.style.padding='0';"
        "document.documentElement.style.overflow='hidden';"
        "document.body.style.margin='0';document.body.style.padding='0';document.body.style.overflow='hidden';")
fig.write_html("out.html", config={"displayModeBar": False, "responsive": False}, post_script=POST)
